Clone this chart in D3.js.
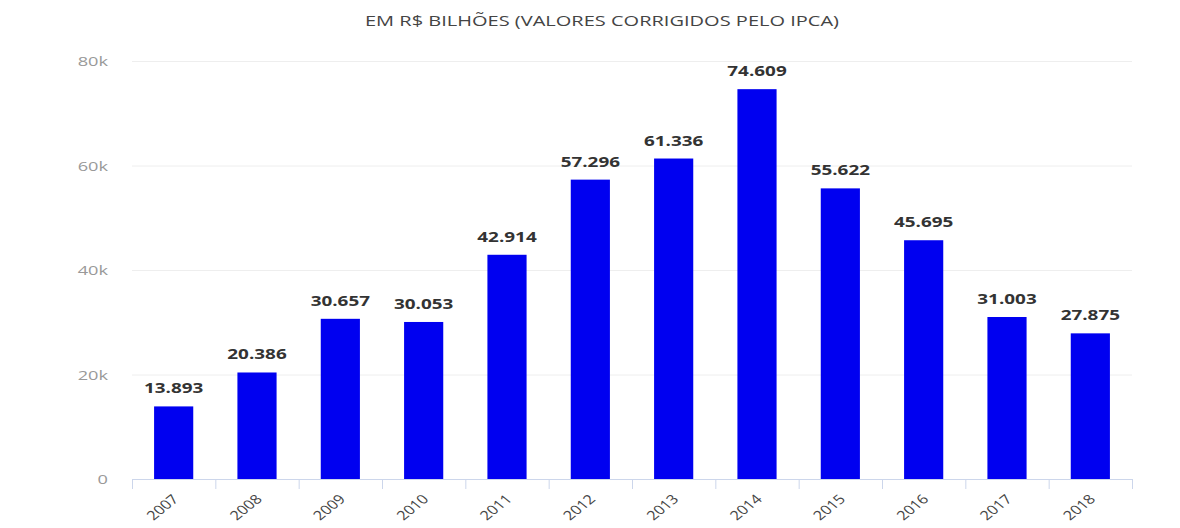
<!DOCTYPE html>
<html><head><meta charset="utf-8">
<script src="https://cdn.jsdelivr.net/npm/d3@7"></script>
<style>body{margin:0;background:#fff;}svg{display:block;font-family:"Open Sans",sans-serif;}</style>
</head><body><svg id="c" width="1180" height="528"></svg>
<script>
const categories = ["2007","2008","2009","2010","2011","2012","2013","2014","2015","2016","2017","2018"];
const values = [13893,20386,30657,30053,42914,57296,61336,74609,55622,45695,31003,27875];
const valueLabels = ["13.893","20.386","30.657","30.053","42.914","57.296","61.336","74.609","55.622","45.695","31.003","27.875"];
const yTicks = [0,20000,40000,60000,80000];
const yTickLabels = ["0","20k","40k","60k","80k"];
const title = "EM R$ BILHÕES (VALORES CORRIGIDOS PELO IPCA)";

(function(){
const svg = d3.select("#c");
const SX = 1.4; // horizontal stretch of the reference image
const pLeft = 132, pRight = 1132, pTop = 61, pBottom = 479;
const x = d3.scaleBand().domain(categories).range([pLeft, pRight]).paddingInner(0.53).paddingOuter(0.265);
const y = d3.scaleLinear().domain([0, 80000]).range([pBottom, pTop]);

svg.append("text").attr("transform", `translate(602,26) scale(1.43,1)`).attr("text-anchor","middle")
  .attr("font-size", 14).attr("fill","#444").text(title);

svg.append("g").selectAll("line").data(yTicks.slice(1)).join("line")
  .attr("x1", pLeft).attr("x2", pRight).attr("y1", d=>y(d)+0.5).attr("y2", d=>y(d)+0.5)
  .attr("stroke","#eeeeee").attr("stroke-width",1);

svg.append("g").selectAll("text").data(yTicks).join("text")
  .attr("transform", d=>`translate(108,${y(d)+5}) scale(${SX},1)`).attr("text-anchor","end")
  .attr("font-size", 13).attr("fill","#999")
  .text((d,i)=>yTickLabels[i]);

svg.append("g").selectAll("rect").data(values).join("rect")
  .attr("x",(d,i)=>x(categories[i])).attr("width", x.bandwidth())
  .attr("y", d=>y(d)).attr("height", d=>pBottom - y(d))
  .attr("fill","#0000f0");

svg.append("g").selectAll("text").data(values).join("text")
  .attr("transform",(d,i)=>`translate(${x(categories[i]) + x.bandwidth()/2},${y(d)-13}) scale(1.35,1)`)
  .attr("text-anchor","middle").attr("font-size",14).attr("font-weight","bold")
  .attr("fill","#333")
  .text((d,i)=>valueLabels[i]);

svg.append("line").attr("x1",pLeft).attr("x2",pRight).attr("y1",pBottom+0.5).attr("y2",pBottom+0.5)
  .attr("stroke","#ccd6eb");
const step = x.step();
svg.append("g").selectAll("line").data(d3.range(categories.length+1)).join("line")
  .attr("x1", i=>pLeft + i*step + 0.5).attr("x2", i=>pLeft + i*step + 0.5)
  .attr("y1", pBottom).attr("y2", pBottom+10).attr("stroke","#ccd6eb");

svg.append("g").selectAll("text").data(categories).join("text")
  .attr("transform", d=>`translate(${x(d)+x.bandwidth()/2+6},${pBottom+21}) scale(1.25,1) rotate(-45)`)
  .attr("text-anchor","end").attr("font-size",13).attr("fill","#444")
  .text(d=>d);
})();
</script></body></html>
